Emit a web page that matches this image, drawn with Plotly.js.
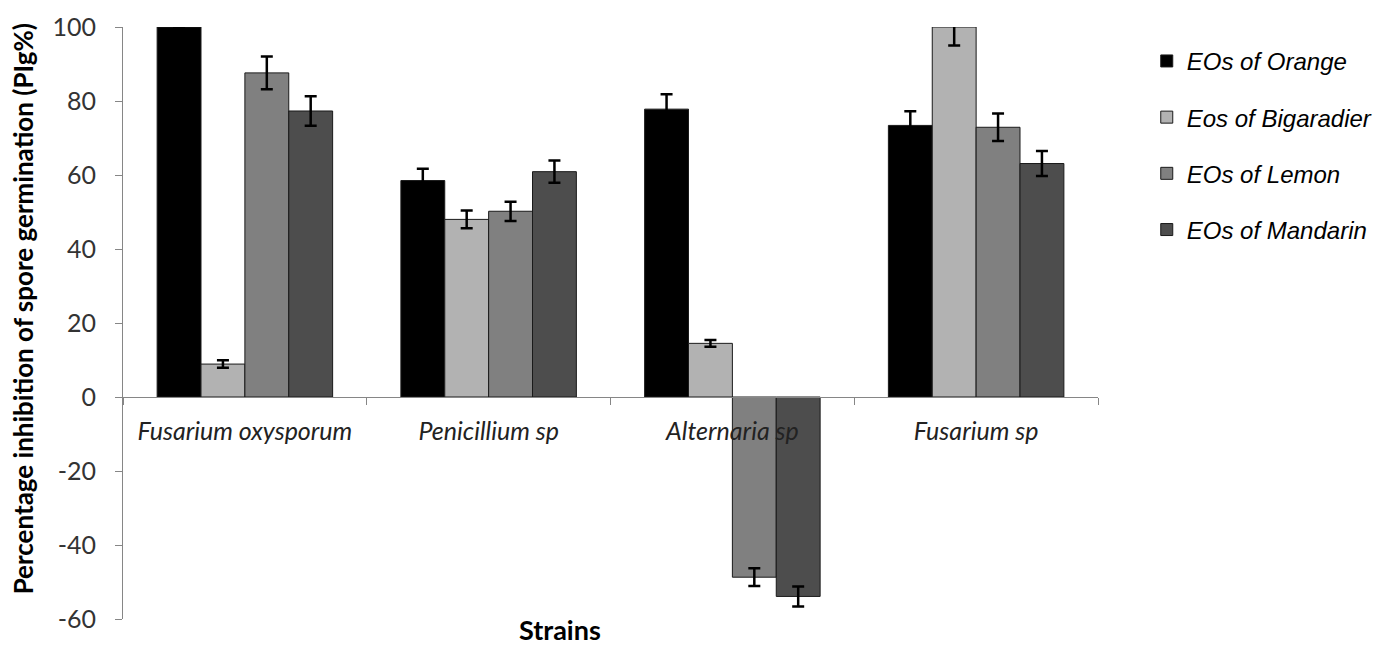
<!DOCTYPE html>
<html>
<head>
<meta charset="utf-8">
<script src="https://cdn.plot.ly/plotly-3.0.1.min.js"></script>
<style>html,body{margin:0;padding:0;background:#fff}#chart{width:1390px;height:645px}</style>
</head>
<body>
<div id="chart"></div>
<script>
const strains = ["Fusarium oxysporum", "Penicillium sp", "Alternaria sp", "Fusarium sp"];
const seriesNames = ["EOs of Orange", "Eos of Bigaradier", "EOs of Lemon", "EOs of Mandarin"];
const orange = [100, 58.5, 77.8, 73.4];
const orangeErr = [0, 3.2, 4.0, 3.8];
const bigaradier = [8.9, 48.0, 14.5, 100];
const bigaradierErr = [1.0, 2.4, 0.9, 5.0];
const lemon = [87.6, 50.2, -48.7, 72.9];
const lemonErr = [4.4, 2.6, 2.4, 3.7];
const mandarin = [77.3, 60.9, -53.9, 63.1];
const mandarinErr = [4.0, 3.0, 2.7, 3.4];
const yTickVals = [-60, -40, -20, 0, 20, 40, 60, 80, 100];
const yTickText = ["-60", "-40", "-20", "0", "20", "40", "60", "80", "100"];
const colors = ["#000000", "#b2b2b2", "#808080", "#4d4d4d"];

const values = [orange, bigaradier, lemon, mandarin];
const errs = [orangeErr, bigaradierErr, lemonErr, mandarinErr];

const traces = seriesNames.map((name, i) => ({
  type: "bar",
  name: name,
  x: strains,
  y: values[i],
  legendgroup: "g" + i,
  marker: { color: colors[i], line: { color: "#1a1a1a", width: 1 } },
  error_y: { type: "data", array: errs[i], visible: true, color: "#000", thickness: 2.5, width: 6 }
}));

const layout = {
  width: 1390, height: 645,
  margin: { l: 123, r: 289, t: 27, b: 26 },
  paper_bgcolor: "#fff", plot_bgcolor: "#fff",
  barmode: "group",
  bargap: 0.28,
  bargroupgap: 0,
  showlegend: true,
  legend: {
    x: 1.05, xanchor: "left", y: 0.98, yanchor: "top",
    font: { family: "Liberation Sans, Arial, sans-serif", size: 24, style: "italic", color: "#000" },
    tracegroupgap: 22,
    itemwidth: 30,
    bgcolor: "rgba(0,0,0,0)"
  },
  xaxis: {
    type: "category",
    anchor: "free",
    position: 0.375,
    showline: true, linecolor: "#868686", linewidth: 1,
    ticks: "outside", tickson: "boundaries", ticklen: 7, tickcolor: "#868686",
    tickfont: { family: "Lato, sans-serif", size: 25, style: "italic", color: "#222" },
    ticklabelstandoff: 12,
    showgrid: false, zeroline: false
  },
  yaxis: {
    range: [-60, 100],
    domain: [0, 1],
    tickmode: "array",
    tickvals: yTickVals,
    ticktext: yTickText,
    showline: true, linecolor: "#868686", linewidth: 1,
    ticks: "outside", ticklen: 7, tickcolor: "#868686",
    tickfont: { family: "Lato, sans-serif", size: 25, color: "#333" },
    ticklabelstandoff: 14,
    showgrid: false, zeroline: false
  },
  annotations: [
    {
      text: "Percentage inhibition of spore germination (PIg%)",
      xref: "paper", yref: "paper", x: -0.103, y: 0.524, xanchor: "center", yanchor: "middle",
      textangle: -90, showarrow: false,
      font: { family: "Lato, sans-serif", size: 26, weight: "bold", color: "#000" }
    },
    {
      text: "Strains",
      xref: "paper", yref: "paper", x: 0.448, y: -0.018, xanchor: "center", yanchor: "middle",
      showarrow: false,
      font: { family: "Lato, sans-serif", size: 27, weight: "bold", color: "#000" }
    }
  ]
};

Plotly.newPlot("chart", traces, layout, { displayModeBar: false, staticPlot: true });
</script>
</body>
</html>
